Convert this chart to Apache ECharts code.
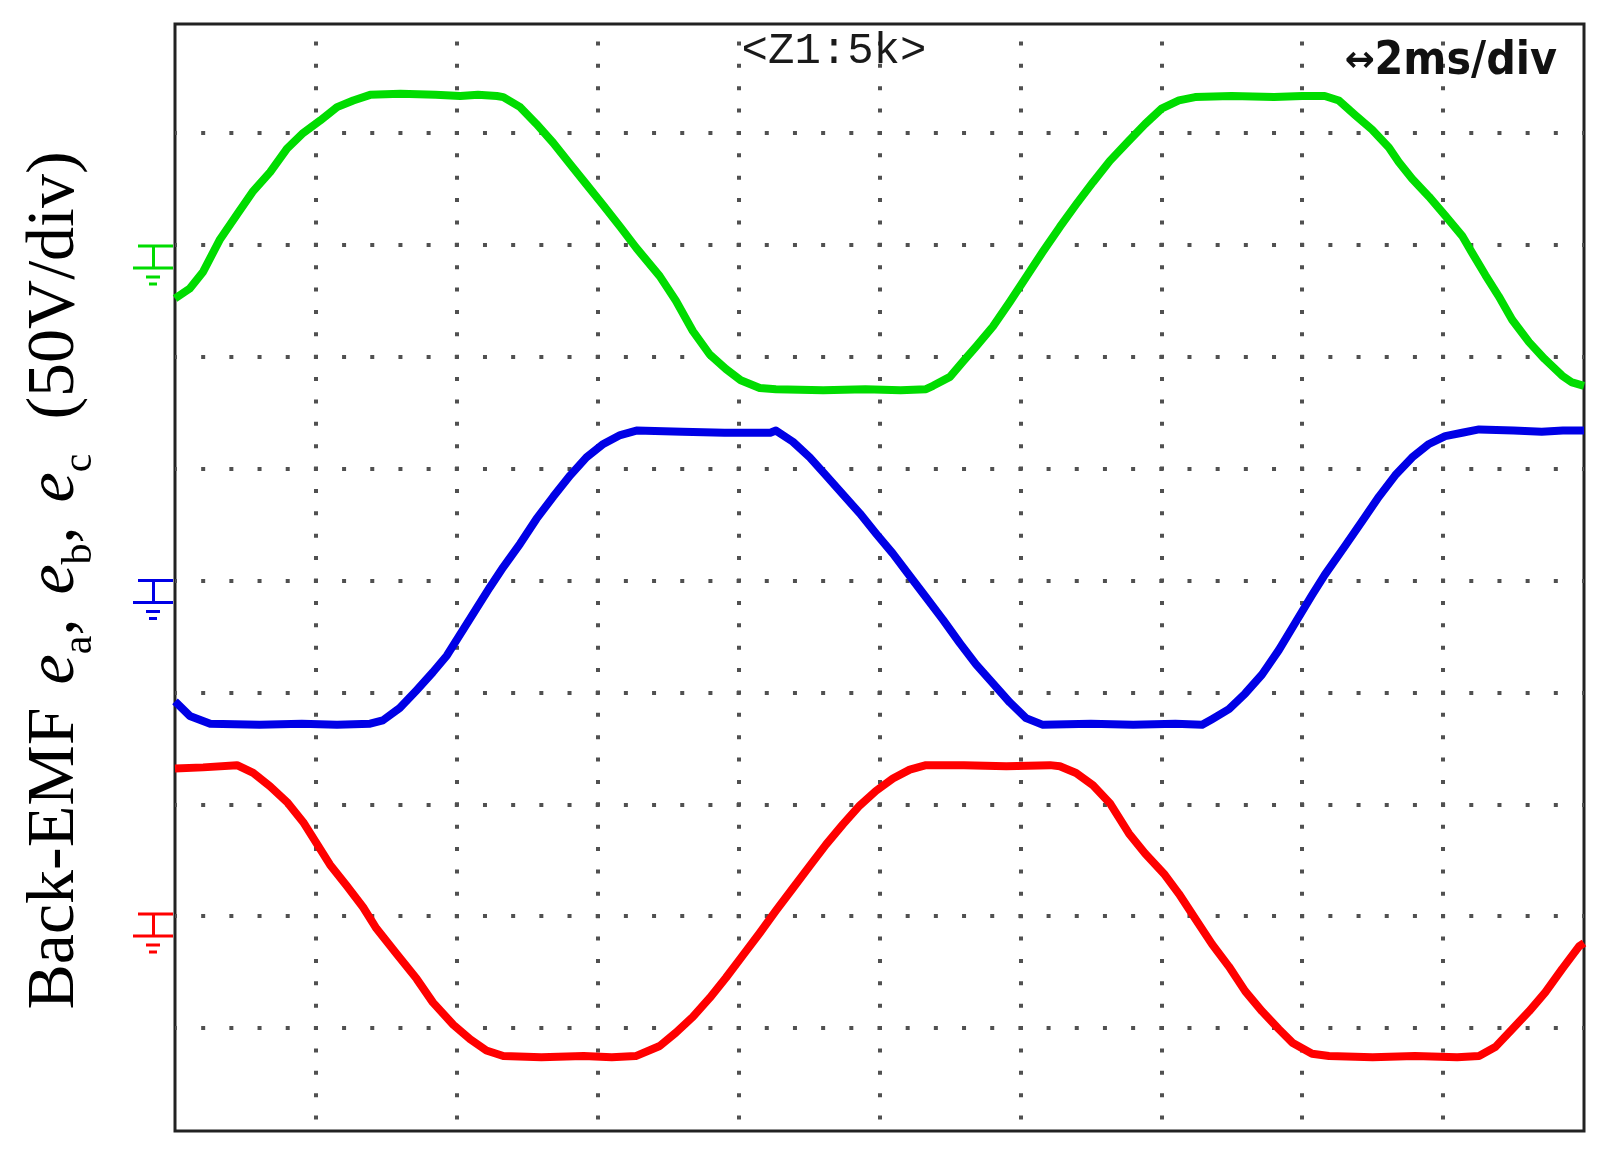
<!DOCTYPE html>
<html>
<head>
<meta charset="utf-8">
<title>Back-EMF</title>
<script src="https://cdn.jsdelivr.net/npm/echarts@6/dist/echarts.min.js"></script>
<style>
  html, body { margin: 0; padding: 0; background: #fff; }
  #chart { width: 1606px; height: 1158px; }
</style>
</head>
<body>
<div id="chart"></div>
<script>
// time in ms (2 ms/div), level in screen divisions (50 V/div)
const ea = [
  [0.00, 7.52], [0.21, 7.61], [0.40, 7.76], [0.64, 8.05], [0.88, 8.27], [1.11, 8.48], [1.35, 8.65],
  [1.59, 8.86], [1.82, 9.00], [2.06, 9.11], [2.30, 9.23], [2.53, 9.29], [2.77, 9.34], [3.20, 9.35],
  [3.70, 9.34], [4.05, 9.33], [4.30, 9.34], [4.57, 9.33], [4.66, 9.32], [4.90, 9.23], [5.13, 9.08],
  [5.37, 8.91], [5.61, 8.72], [5.84, 8.54], [6.07, 8.36], [6.32, 8.16], [6.55, 7.97], [6.88, 7.72],
  [7.11, 7.50], [7.35, 7.23], [7.59, 7.02], [7.82, 6.89], [8.03, 6.79], [8.30, 6.72], [8.53, 6.71],
  [9.20, 6.70], [9.80, 6.71], [10.30, 6.70], [10.66, 6.71], [10.76, 6.74], [11.00, 6.82], [11.19, 6.96],
  [11.37, 7.09], [11.61, 7.27], [11.85, 7.49], [12.08, 7.71], [12.32, 7.94], [12.56, 8.16], [12.79, 8.36],
  [13.03, 8.56], [13.27, 8.75], [13.54, 8.93], [13.77, 9.08], [14.01, 9.22], [14.25, 9.29], [14.48, 9.32],
  [15.00, 9.33], [15.60, 9.32], [16.00, 9.33], [16.32, 9.33], [16.52, 9.29], [16.75, 9.16], [16.99, 9.03],
  [17.23, 8.87], [17.37, 8.74], [17.56, 8.59], [17.80, 8.43], [18.03, 8.26], [18.27, 8.08], [18.41, 7.93],
  [18.60, 7.73], [18.79, 7.54], [18.98, 7.33], [19.22, 7.13], [19.44, 6.98], [19.69, 6.83], [19.83, 6.77],
  [20.00, 6.74]
];
const eb = [
  [0.00, 3.92], [0.21, 3.79], [0.50, 3.72], [1.20, 3.71], [1.80, 3.72], [2.30, 3.71], [2.77, 3.72],
  [2.95, 3.75], [3.19, 3.86], [3.43, 4.02], [3.66, 4.18], [3.86, 4.33], [4.05, 4.52], [4.28, 4.75],
  [4.47, 4.94], [4.66, 5.12], [4.90, 5.33], [5.13, 5.55], [5.37, 5.75], [5.61, 5.94], [5.84, 6.10],
  [6.08, 6.22], [6.32, 6.30], [6.55, 6.34], [7.20, 6.33], [7.80, 6.32], [8.45, 6.32], [8.53, 6.34],
  [8.77, 6.24], [9.01, 6.10], [9.24, 5.94], [9.48, 5.77], [9.72, 5.60], [9.95, 5.42], [10.19, 5.24],
  [10.43, 5.04], [10.66, 4.85], [10.90, 4.65], [11.14, 4.44], [11.37, 4.25], [11.61, 4.08], [11.85, 3.91],
  [12.08, 3.77], [12.32, 3.71], [13.00, 3.72], [13.60, 3.71], [14.20, 3.72], [14.58, 3.71], [14.72, 3.76],
  [14.96, 3.85], [15.19, 3.99], [15.43, 4.16], [15.67, 4.38], [15.90, 4.62], [16.14, 4.87], [16.32, 5.05],
  [16.61, 5.31], [16.85, 5.53], [17.09, 5.75], [17.32, 5.94], [17.56, 6.10], [17.80, 6.22], [18.03, 6.29],
  [18.27, 6.32], [18.51, 6.35], [19.00, 6.34], [19.40, 6.33], [19.70, 6.34], [20.00, 6.34]
];
const ec = [
  [0.00, 3.32], [0.40, 3.33], [0.88, 3.35], [1.11, 3.28], [1.35, 3.16], [1.59, 3.02], [1.82, 2.84],
  [2.01, 2.65], [2.20, 2.46], [2.44, 2.27], [2.67, 2.08], [2.86, 1.89], [3.15, 1.66], [3.43, 1.44],
  [3.66, 1.23], [3.95, 1.03], [4.19, 0.90], [4.42, 0.80], [4.66, 0.75], [5.20, 0.74], [5.80, 0.75],
  [6.20, 0.74], [6.54, 0.75], [6.88, 0.84], [7.11, 0.96], [7.35, 1.10], [7.59, 1.27], [7.82, 1.45],
  [8.06, 1.65], [8.30, 1.85], [8.53, 2.05], [8.77, 2.25], [9.01, 2.45], [9.24, 2.64], [9.48, 2.82],
  [9.72, 2.99], [9.95, 3.12], [10.19, 3.23], [10.43, 3.31], [10.66, 3.35], [11.20, 3.35], [11.80, 3.34],
  [12.42, 3.35], [12.56, 3.34], [12.79, 3.28], [13.03, 3.17], [13.27, 3.01], [13.54, 2.74], [13.77, 2.56],
  [14.05, 2.37], [14.25, 2.20], [14.48, 1.98], [14.72, 1.75], [14.96, 1.55], [15.19, 1.33], [15.43, 1.15],
  [15.67, 0.99], [15.86, 0.87], [16.14, 0.77], [16.38, 0.75], [17.00, 0.74], [17.60, 0.75], [18.20, 0.74],
  [18.51, 0.75], [18.74, 0.83], [18.98, 0.99], [19.22, 1.15], [19.45, 1.32], [19.69, 1.53], [19.93, 1.73],
  [20.00, 1.76]
];
// channel ground markers (divisions)
const groundLevels = [7.82, 4.83, 1.85];
const traceNames = ['ea', 'eb', 'ec'];
const traceColors = ['#00dc00', '#0000e6', '#ff0000'];

const W = 1606, H = 1158;
// data grid spans exactly 10 x 10 divisions, the drawn frame sits slightly inside it vertically
const DATA = { left: 175, right: 22, top: 21, bottom: 18 };
const BOX = { left: 175, right: 22, top: 24, bottom: 27 };
const hPeriod = (W - DATA.left - DATA.right) / 50;
const vPeriod = (H - DATA.top - DATA.bottom) / 50;
const firstDot = ((H - DATA.bottom) - BOX.top) % vPeriod;
const DOT = 4;
const dotColor = '#505050';

const groundSymbol = 'path://M5 0H40V3H5Z M19 0H22V24H19Z M0 22H40V25H0Z M13 31H27V34H13Z M16 38H24V41H16Z';

const serif = 'Liberation Serif';
const chart = echarts.init(document.getElementById('chart'));

const option = {
  animation: false,
  backgroundColor: '#fff',
  grid: [
    { left: DATA.left, right: DATA.right, top: DATA.top, bottom: DATA.bottom, show: false },
    { left: BOX.left, right: BOX.right, top: BOX.top, bottom: BOX.bottom, show: true,
      borderColor: '#222', borderWidth: 3, backgroundColor: 'transparent' }
  ],
  xAxis: [
    { type: 'value', gridIndex: 0, min: 0, max: 20, interval: 2,
      axisLine: { show: false }, axisTick: { show: false }, axisLabel: { show: false },
      splitLine: { show: false } },
    { type: 'value', gridIndex: 1, min: 0, max: 20, interval: 2,
      axisLine: { show: false }, axisTick: { show: false }, axisLabel: { show: false },
      splitLine: {
        show: true, showMinLine: false, showMaxLine: false,
        lineStyle: { color: dotColor, width: DOT, type: [DOT, vPeriod - DOT],
          dashOffset: vPeriod - firstDot + DOT / 2 }
      } }
  ],
  yAxis: [
    { type: 'value', gridIndex: 0, min: 0, max: 10, interval: 1,
      axisLine: { show: false }, axisTick: { show: false }, axisLabel: { show: false },
      splitLine: {
        show: true, showMinLine: false, showMaxLine: false,
        lineStyle: { color: dotColor, width: DOT, type: [DOT, hPeriod - DOT], dashOffset: DOT / 2 }
      },
      name: '{b|Back-EMF }{e|e}{s|a}{c|, }{e|e}{s|b}{c|, }{e|e}{s|c}{t|  (50V/div)}',
      nameLocation: 'middle',
      nameGap: 74,
      nameTextStyle: {
        rich: {
          b: { fontFamily: serif, fontSize: 68, height: 68, verticalAlign: 'top', color: '#000', padding: [0, 6, 0, 0] },
          t: { fontFamily: serif, fontSize: 68, height: 68, verticalAlign: 'top', color: '#000' },
          c: { fontFamily: serif, fontSize: 68, height: 68, verticalAlign: 'top', color: '#000', padding: [0, 7, 0, 0] },
          e: { fontFamily: serif, fontStyle: 'italic', fontSize: 68, height: 68, verticalAlign: 'top', color: '#000' },
          s: { fontFamily: serif, fontSize: 42, height: 42, lineHeight: 80, verticalAlign: 'bottom', color: '#000' }
        }
      } },
    { type: 'value', gridIndex: 1, min: 0, max: 1, show: false }
  ],
  graphic: [
    { type: 'text', x: 834, y: 51, z: 10,
      style: { text: '<Z1:5k>', fill: '#1a1a1a', font: '44px "Liberation Mono"', align: 'center', verticalAlign: 'middle' } },
    { type: 'text', x: 1557, y: 62, z: 10,
      style: { text: '{a|↔}{b|2ms/div}', align: 'right', verticalAlign: 'middle',
        rich: {
          a: { font: 'bold 36px "DejaVu Sans"', fill: '#111' },
          b: { font: 'bold 46px "DejaVu Sans Condensed", "DejaVu Sans"', fill: '#111' }
        } } }
  ],
  series: [ea, eb, ec].map((data, i) => ({
    type: 'line',
    name: traceNames[i],
    xAxisIndex: 0,
    yAxisIndex: 0,
    data: data,
    symbol: 'none',
    clip: false,
    lineStyle: { color: traceColors[i], width: 8, join: 'round' },
    markPoint: {
      silent: true,
      symbol: groundSymbol,
      symbolSize: [40, 41],
      symbolOffset: [-22, 0],
      itemStyle: { color: traceColors[i] },
      label: { show: false },
      data: [{ coord: [0, groundLevels[i]] }]
    }
  }))
};

chart.setOption(option);
</script>
</body>
</html>
